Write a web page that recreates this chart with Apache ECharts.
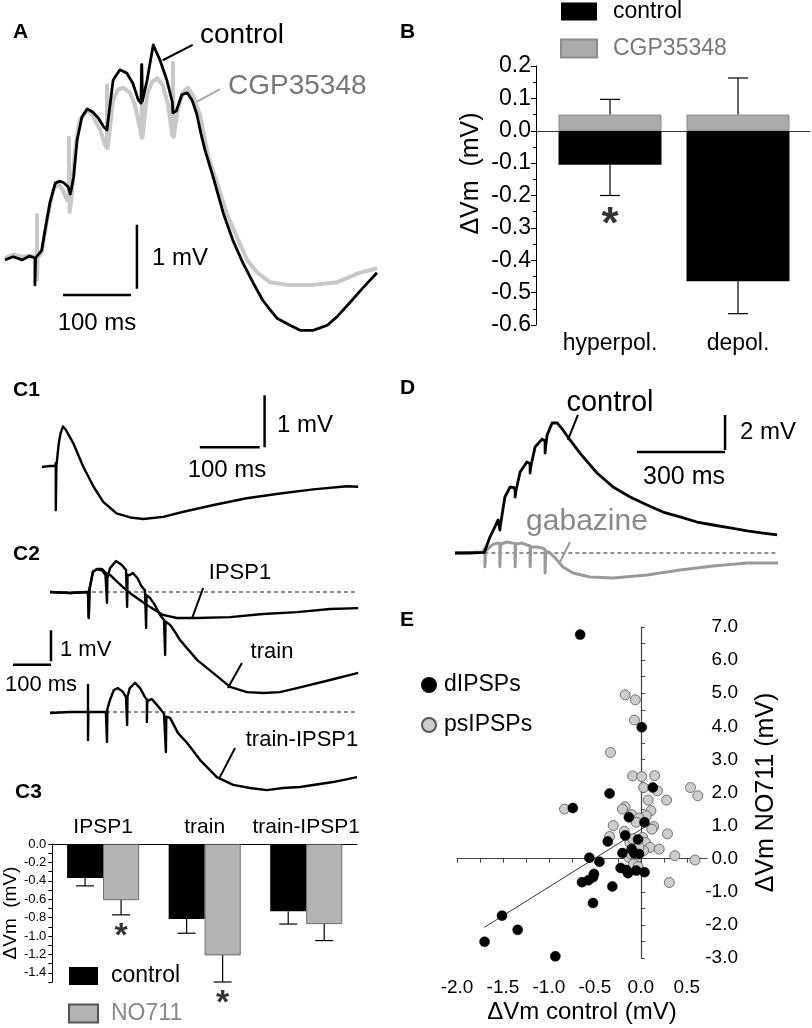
<!DOCTYPE html>
<html><head><meta charset="utf-8">
<script src="https://cdn.jsdelivr.net/npm/echarts@6/dist/echarts.min.js"></script>
<style>html,body{margin:0;padding:0;background:#fff}#c{width:812px;height:1028px}</style>
</head><body><div id="c"></div>
<script>
// ---------------- DATA ----------------
// Panel A: membrane traces (t in ms, Vm in mV)
const traceA_control = [
 [0,-0.03],[12,0.02],[25,-0.03],[36,0.03],[44,0.0],[44,-0.42],[45,0.0],
 [54,0.12],[59,0.44],[66,0.86],[74,1.17],[80,1.2],[86,1.18],[93,1.11],[96,1.0],[98,1.1],[101,1.27],
 [106,1.84],[113,2.2],[121,2.33],[129,2.28],[137,2.19],[145,2.05],[150,2.0],[151,2.1],
 [159,2.78],[169,2.94],[179,2.89],[188,2.73],[196,2.47],[200,2.42],[201,3.02],[202,2.45],
 [209,2.78],[218,3.33],[228,3.09],[238,2.78],[246,2.44],[247,2.27],[252,2.3],
 [260,2.55],[268,2.58],[275,2.47],[282,2.25],[288,1.95],[294,1.69],[306,1.27],[321,0.70],[335,0.28],
 [350,-0.08],[365,-0.39],[379,-0.66],[390,-0.81],[400,-0.94],[419,-1.05],[434,-1.13],[453,-1.13],
 [474,-1.05],[488,-0.92],[507,-0.70],[526,-0.47],[547,-0.23]
];
const traceA_cgp = [
 [0,0.0],[12,0.05],[25,0.02],[40,0.04],[47,0.0],[47,0.67],[47,-0.34],[48,0.0],
 [54,0.09],[63,0.67],[71,1.06],[78,1.17],[85,1.06],[91,0.91],[94,0.88],[94,1.88],[95,0.72],[98,0.95],
 [103,1.69],[110,2.16],[121,2.31],[129,2.23],[140,2.0],[147,1.77],[150,1.72],[150,2.70],[151,1.72],
 [159,2.47],[166,2.63],[174,2.66],[184,2.58],[191,2.39],[199,2.0],[201,1.88],[201,3.02],[202,1.88],
 [209,2.55],[216,2.75],[224,2.81],[232,2.70],[240,2.39],[246,1.92],[247,1.89],[247,3.05],[248,1.89],
 [254,2.31],[262,2.59],[269,2.66],[276,2.55],[287,2.23],[299,1.58],[312,1.17],[326,0.70],[341,0.33],
 [356,-0.03],[371,-0.23],[390,-0.38],[415,-0.42],[453,-0.42],[488,-0.38],[522,-0.23],[547,-0.16]
];

// Panel B: bars (mV)
const bCategories = ['hyperpol.', 'depol.'];
const bControlMean = [-0.105, -0.465];
const bControlSem  = [0.095, 0.10];
const bCgpMean     = [0.05, 0.05];
const bCgpSem      = [0.047, 0.113];

// Panel C1 trace
const traceC1 = [
 [0,0],[13,0.02],[22,0.02],[23,0.08],[23,-0.83],[24,0.02],[28,0.46],[31,0.65],[35,0.78],[40,0.71],
 [52,0.46],[69,0.0],[86,-0.38],[102,-0.67],[124,-0.89],[147,-0.97],[169,-1.0],[202,-0.96],[236,-0.86],
 [286,-0.73],[341,-0.6],[397,-0.51],[452,-0.43],[508,-0.37],[527,-0.38]
];
// Panel C2 traces
const traceC2_ipsp1 = [
 [0,0],[53,-0.03],[100,0],[102,0.05],[102,-0.84],[104,0.1],[113,0.65],[124,0.74],[137,0.74],[150,0.58],
 [158,0.55],[175,0.35],[192,0.16],[210,-0.03],[255,-0.42],[297,-0.74],[334,-0.84],[387,-0.84],
 [474,-0.81],[560,-0.71],[650,-0.65],[737,-0.55],[811,-0.52]
];
const traceC2_train = [
 [0,0],[53,-0.03],[100,0],[102,0.05],[102,-0.84],[104,0.1],[113,0.65],[124,0.74],[137,0.7],[146,0.55],
 [150,0.5],[150,-0.35],[151,0.45],[158,0.77],[174,1.0],[189,0.87],[200,0.71],[203,0.65],[203,-0.48],[204,0.55],
 [210,0.55],[218,0.61],[230,0.45],[240,0.2],[250,0.05],[253,0.02],[253,-1.16],[254,-0.1],[263,-0.19],
 [275,-0.4],[290,-0.75],[300,-0.9],[303,-0.92],[303,-2.03],[304,-0.95],[316,-1.06],[329,-1.29],[342,-1.55],
 [387,-2.19],[429,-2.61],[474,-3.06],[518,-3.23],[561,-3.26],[605,-3.23],[650,-3.1],[737,-2.84],[811,-2.61]
];
const traceC2_trainMinusIpsp1 = [
 [0,-0.03],[53,0],[100,0],[100,0.87],[100,-0.9],[101,0],[118,0],[147,0],[150,0],[150,-0.97],[151,0.1],
 [158,0.39],[168,0.71],[179,0.77],[192,0.65],[200,0.48],[203,0.45],[203,-0.42],[204,0.5],[210,0.77],
 [224,0.94],[237,0.77],[250,0.48],[255,0.4],[255,-0.32],[256,0.35],[261,0.39],[268,0.42],[284,0.19],
 [300,-0.06],[305,-0.1],[305,-1.29],[306,-0.15],[311,-0.13],[316,-0.19],[337,-0.68],[361,-1.0],[395,-1.55],
 [439,-2.1],[482,-2.35],[526,-2.45],[571,-2.52],[613,-2.45],[658,-2.42],[745,-2.26],[808,-2.1]
];

// Panel C3: bars (mV)
const c3Categories  = ['IPSP1', 'train', 'train-IPSP1'];
const c3ControlMean = [-0.37, -0.815, -0.73];
const c3ControlSem  = [0.085, 0.155, 0.14];
const c3NO711Mean   = [-0.61, -1.21, -0.87];
const c3NO711Sem    = [0.16, 0.29, 0.18];

// Panel D traces
const traceD_control = [
 [0,0],[50,0],[100,0.03],[102,0.06],[119,0.91],[136,1.49],[147,1.89],[153,1.85],[153,1.31],[155,1.6],
 [170,3.2],[188,3.77],[200,3.75],[205,3.6],[205,3.2],[207,3.5],[222,4.63],[245,5.2],[256,5.1],[256,4.57],
 [258,4.9],[273,6.06],[297,6.51],[307,6.4],[307,5.71],[309,6.1],[314,6.74],[331,7.43],[348,7.43],
 [368,7.03],[392,6.46],[426,5.71],[484,4.57],[539,3.77],[597,3.2],[655,2.74],[709,2.34],[767,2.06],
 [825,1.77],[880,1.6],[938,1.43],[996,1.26],[1050,1.14],[1098,1.03]
];
const traceD_gabazine = [
 [0,0],[50,0.03],[95,0.06],[102,0.29],[102,-0.78],[104,0.1],[126,0.46],[143,0.57],[153,0.55],[153,-0.78],
 [155,0.5],[177,0.63],[194,0.57],[205,0.55],[205,-0.78],[207,0.5],[228,0.57],[245,0.46],[256,0.4],[256,-0.78],
 [258,0.35],[280,0.34],[297,0.29],[307,0.2],[307,-1.14],[309,0.1],[324,0],[348,-0.4],[368,-0.8],
 [402,-1.14],[460,-1.37],[539,-1.43],[655,-1.26],[767,-0.97],[880,-0.74],[996,-0.57],[1101,-0.57]
];

// Panel E: scatter (ΔVm control, ΔVm NO711) in mV
const eDIPSPs = [
 [-0.66,6.77],[0.01,3.97],[-0.34,1.97],[0.13,2.15],[-0.74,1.53],[-0.13,1.25],[0.04,1.10],[-0.17,0.70],
 [-0.03,0.58],[-0.36,0.52],[-0.20,0.17],[-0.10,0.29],[-0.07,0.16],[-0.02,0.14],[-0.56,0.03],[-0.45,-0.09],
 [-0.22,-0.28],[-0.16,-0.34],[-0.14,-0.44],[-0.05,-0.36],[0.04,-0.41],[-0.51,-0.46],[-0.52,-0.56],
 [-0.57,-0.65],[-0.64,-0.71],[-0.31,-0.84],[-0.52,-1.34],[-1.51,-1.72],[-1.34,-2.15],[-1.70,-2.51],[-0.93,-2.95]
];
const ePsIPSPs = [
 [-0.17,4.95],[-0.06,4.80],[-0.07,4.19],[-0.33,3.21],[-0.09,2.50],[0.01,2.48],[0.15,2.51],[0.03,2.15],
 [0.18,2.05],[0.54,2.15],[0.62,1.90],[0.08,1.77],[0.28,1.77],[-0.83,1.50],[-0.17,1.57],[-0.20,1.50],
 [0.11,1.45],[-0.10,1.33],[0.06,1.30],[-0.02,1.23],[-0.05,1.10],[0.14,0.97],[0.12,0.89],[-0.30,1.00],
 [-0.34,0.67],[0.29,0.75],[-0.18,0.83],[-0.12,0.49],[0.02,0.64],[0.05,0.49],[0.10,0.34],[0.20,0.29],
 [0.03,0.24],[0.37,0.09],[0.59,-0.04],[-0.13,0.04],[-0.05,-0.01],[-0.08,-0.16],[-0.03,-0.24],[0.31,-0.72],
 [-0.09,0.60],[-0.02,0.35],[-0.11,0.15]
];
const eFitLine = [[-1.70,-2.07],[0.08,1.02]];
const eXTicks = [-2.0,-1.5,-1.0,-0.5,0.0,0.5];
const eXMinorTicks = [-2.0,-1.75,-1.5,-1.25,-1.0,-0.75,-0.5,-0.25,0,0.25,0.5];

// ---------------- LAYOUT / STYLE ----------------
const F = '"Liberation Sans", Arial, Helvetica, sans-serif';
const GREY_TRACE = '#c8c8c8';
const grids = [
 {left:5, top:18, width:374, height:320},          //0 A
 {left:536, top:66, width:274, height:259},        //1 B
 {left:42, top:389, width:318, height:156},        //2 C1
 {left:12, top:545.5, width:349.6, height:155},    //3 C2 top
 {left:12, top:665.5, width:349.6, height:139.5},  //4 C2 bottom
 {left:49, top:844, width:308, height:138},        //5 C3
 {left:455, top:395.5, width:322.7, height:192.5}, //6 D
 {left:457, top:627, width:250, height:331}        //7 E
];
const hiddenX = (g,min,max)=>({type:'value',gridIndex:g,min,max,show:false});
const hiddenY = (g,min,max)=>({type:'value',gridIndex:g,min,max,show:false});
const noSplit = {show:false};
const xAxes = [
 hiddenX(0,0,550),                                            //0 A
 {type:'value',gridIndex:1,min:0.421875,max:2.5625,position:'bottom',
  axisLine:{show:true,onZero:true,lineStyle:{color:'#333',width:1}},axisTick:{show:false},axisLabel:{show:false},splitLine:noSplit}, //1 B zero line
 {type:'value',gridIndex:1,min:0.421875,max:2.5625,position:'bottom',
  axisLine:{show:false,onZero:false},axisTick:{show:false},splitLine:noSplit,
  axisLabel:{customValues:[1,2],formatter:v=>bCategories[Math.round(v)-1],fontSize:23,color:'#000',margin:7,fontFamily:F}}, //2 B labels
 hiddenX(2,0,530),                                            //3 C1
 hiddenX(3,-100,820),                                         //4 C2 top
 hiddenX(4,-100,820),                                         //5 C2 bottom
 {type:'category',gridIndex:5,data:c3Categories,position:'top',
  axisLine:{show:true,lineStyle:{color:'#000',width:1}},axisTick:{show:false},
  axisLabel:{fontSize:21,color:'#000',margin:6,fontFamily:F,interval:0}}, //6 C3
 hiddenX(6,0,1100),                                           //7 D
 {type:'value',gridIndex:7,min:-2,max:0.72,position:'bottom',
  axisLine:{show:true,onZero:true,lineStyle:{color:'#444',width:1.2}},
  axisTick:{show:true,customValues:eXMinorTicks,length:4,lineStyle:{color:'#444'}},axisLabel:{show:false},splitLine:noSplit}, //8 E ticks
 {type:'value',gridIndex:7,min:-2,max:0.72,position:'bottom',
  axisLine:{show:false,onZero:false},axisTick:{show:false},splitLine:noSplit,
  axisLabel:{customValues:eXTicks,formatter:v=>v.toFixed(1),fontSize:19,color:'#000',margin:20,fontFamily:F},
  name:'\u0394Vm control (mV)',nameLocation:'middle',nameGap:42,nameTextStyle:{fontSize:24,color:'#000',fontFamily:F}} //9 E labels
];
const yAxes = [
 hiddenY(0,-1.25,3.75),                                       //0 A
 {type:'value',gridIndex:1,min:-0.6,max:0.2,interval:0.1,position:'left',
  axisLine:{show:true,onZero:false,lineStyle:{color:'#000',width:1}},
  axisTick:{show:true,length:5,lineStyle:{color:'#000'}},
  minorTick:{show:true,splitNumber:2,length:3,lineStyle:{color:'#000'}},
  axisLabel:{formatter:v=>v.toFixed(1),fontSize:23,color:'#000',margin:5,fontFamily:F},splitLine:noSplit,minorSplitLine:noSplit,
  name:'\u0394Vm  (mV)',nameLocation:'middle',nameGap:52,nameTextStyle:{fontSize:25,color:'#000',fontFamily:F,padding:[0,0,0,44]}}, //1 B
 hiddenY(2,-1.5,1.5),                                         //2 C1
 hiddenY(3,-3.5,1.5),                                         //3 C2 top
 hiddenY(4,-3,1.5),                                           //4 C2 bottom
 {type:'value',gridIndex:5,min:-1.5,max:0,interval:0.1,position:'left',
  axisLine:{show:true,onZero:false,lineStyle:{color:'#000',width:1}},
  axisTick:{show:true,length:4,lineStyle:{color:'#000'}},
  axisLabel:{formatter:v=>(Math.abs(Math.round(v*10))%2===0?(Math.abs(v)<1e-9?'0.0':v.toFixed(1)):''),fontSize:13,color:'#000',margin:6,fontFamily:F},
  splitLine:noSplit,
  name:'\u0394Vm  (mV)',nameLocation:'middle',nameGap:32,nameTextStyle:{fontSize:19,color:'#000',fontFamily:F}}, //5 C3
 hiddenY(6,-2,9),                                             //6 D
 {type:'value',gridIndex:7,min:-3,max:7,interval:0.5,position:'left',
  axisLine:{show:true,onZero:true,lineStyle:{color:'#444',width:1.2}},
  axisTick:{show:true,inside:true,length:4,lineStyle:{color:'#444'}},axisLabel:{show:false},splitLine:noSplit}, //7 E ticks
 {type:'value',gridIndex:7,min:-3,max:7,interval:1,position:'right',
  axisLine:{show:false,onZero:false},axisTick:{show:false},splitLine:noSplit,
  axisLabel:{formatter:v=>v.toFixed(1),fontSize:19,color:'#000',margin:31,align:'right',fontFamily:F},
  name:'\u0394Vm NO711 (mV)',nameLocation:'middle',nameGap:47,nameTextStyle:{fontSize:25,color:'#000',fontFamily:F}} //8 E labels
];
const AX = {A:[0,0], B:[2,1], C1:[3,2], C2a:[4,3], C2b:[5,4], C3:[6,5], D:[7,6], E:[9,8]};

function line(panel, data, color, width, extra){
  return Object.assign({type:'line', xAxisIndex:AX[panel][0], yAxisIndex:AX[panel][1], data,
    showSymbol:false, symbol:'none', clip:false, silent:true, z:3,
    lineStyle:{color, width, join:'round', cap:'butt'}}, extra||{});
}
// scale bar: horizontal bar of length lx starting at (x0,y0); vertical bar of length ly starting at (x1,y1)
function scaleBar(panel, x0, y0, lx, x1, y1, ly){
  return [line(panel, [[x0,y0],[x0+lx,y0]], '#000', 2.5),
          line(panel, [[x1,y1],[x1,y1+ly]], '#000', 2.5)];
}
function errRender(capW, dx){
  return function(params, api){
    const x = api.value(0), a = api.value(1), b = api.value(2);
    const p0 = api.coord([x,a]), p1 = api.coord([x,b]);
    const st = {stroke:'#000', lineWidth:1.2};
    return {type:'group', children:[
      {type:'line', shape:{x1:p0[0]+dx,y1:p0[1],x2:p1[0]+dx,y2:p1[1]}, style:st},
      {type:'line', shape:{x1:p1[0]+dx-capW/2,y1:p1[1],x2:p1[0]+dx+capW/2,y2:p1[1]}, style:st}
    ]};
  };
}
const errData = (xs, mean, sem) => mean.map((m,i)=>[xs[i], m, m + Math.sign(m)*sem[i]]);
function star(panel, pts, size, dx){
  return {type:'scatter', xAxisIndex:AX[panel][0], yAxisIndex:AX[panel][1], data:pts, symbolSize:1, clip:false, silent:true,
    itemStyle:{color:'rgba(0,0,0,0)'}, z:6,
    label:{show:true, formatter:'*', position:'inside', fontSize:size, fontWeight:'bold', color:'#000', fontFamily:F, offset:[dx, size*0.2]}};
}
const DASH = {color:'#222',width:1,type:[4,3]};

const series = [];
// A
series.push(line('A', traceA_cgp, GREY_TRACE, 4));
series.push(line('A', traceA_control, '#000', 2.8));
series.push(...scaleBar('A', 85.3, -0.58, 100, 194, -0.48, 1));
series.push(line('A', [[232,3.09],[276,3.33]], '#000', 2));
series.push(line('A', [[282,2.44],[316,2.64]], '#aaa', 2));
// B
series.push({name:'control', type:'bar', xAxisIndex:2, yAxisIndex:1, data:bControlMean.map((v,i)=>[i+1,v]),
  barWidth:103, barGap:'-100%', itemStyle:{color:'#000'}, silent:true});
series.push({name:'CGP35348', type:'bar', xAxisIndex:2, yAxisIndex:1, data:bCgpMean.map((v,i)=>[i+1,v]),
  barWidth:103, barGap:'-100%', itemStyle:{color:'#ababab', borderColor:'#8c8c8c', borderWidth:1}, silent:true});
series.push({type:'custom', xAxisIndex:2, yAxisIndex:1, renderItem:errRender(20,0), data:errData([1,2], bControlMean, bControlSem), silent:true, z:4});
series.push({type:'custom', xAxisIndex:2, yAxisIndex:1, renderItem:errRender(20,0), data:errData([1,2], bCgpMean, bCgpSem), silent:true, z:4});
series.push(star('B', [[1,-0.268]], 44, 0));
// C1
series.push(line('C1', traceC1, '#000', 2.4));
series.push(...scaleBar('C1', 263, 0.38, 100, 371, 0.38, 1));
// C2
series.push(line('C2a', [[0,0],[810,0]], '#222', 1, {lineStyle:DASH}));
series.push(line('C2a', traceC2_ipsp1, '#000', 2.4));
series.push(line('C2a', traceC2_train, '#000', 2.4));
series.push(line('C2b', [[0,0],[810,0]], '#222', 1, {lineStyle:DASH}));
series.push(line('C2b', traceC2_trainMinusIpsp1, '#000', 2.4));
series.push(...scaleBar('C2a', -97.4, -2.35, 100, 2.6, -2.23, 1));
series.push(line('C2a', [[403,0.13],[374,-0.84]], '#000', 2));
series.push(line('C2a', [[505,-2.29],[468,-3.1]], '#000', 2));
series.push(line('C2b', [[487,-1.16],[447,-2.1]], '#000', 2));
// C3
series.push({name:'C3 control', type:'bar', xAxisIndex:6, yAxisIndex:5, data:c3ControlMean,
  barWidth:36, barGap:'0%', itemStyle:{color:'#000'}, silent:true});
series.push({name:'C3 NO711', type:'bar', xAxisIndex:6, yAxisIndex:5, data:c3NO711Mean,
  barWidth:36, barGap:'0%', itemStyle:{color:'#b3b3b3', borderColor:'#555', borderWidth:0.8}, silent:true});
series.push({type:'custom', xAxisIndex:6, yAxisIndex:5, renderItem:errRender(18,-18), data:errData([0,1,2], c3ControlMean, c3ControlSem), silent:true, z:4});
series.push({type:'custom', xAxisIndex:6, yAxisIndex:5, renderItem:errRender(18,18), data:errData([0,1,2], c3NO711Mean, c3NO711Sem), silent:true, z:4});
series.push(star('C3', [[0,-0.935],[1,-1.66]], 34, 18));
// D
series.push(line('D', [[100,0],[1100,0]], '#222', 1, {lineStyle:DASH}));
series.push(line('D', traceD_gabazine, '#999', 3));
series.push(line('D', traceD_control, '#000', 2.8));
series.push(...scaleBar('D', 620.5, 5.77, 300, 920.5, 5.89, 2));
series.push(line('D', [[419,7.89],[385,6.46]], '#000', 2));
series.push(line('D', [[392,0.63],[358,-0.51]], '#999', 2));
// E
series.push(line('E', eFitLine, '#333', 1));
series.push({name:'psIPSPs', type:'scatter', xAxisIndex:9, yAxisIndex:8, data:ePsIPSPs, symbolSize:10, silent:true,
  itemStyle:{color:'#cccccc', borderColor:'#555', borderWidth:0.8, opacity:1}, z:4});
series.push({name:'dIPSPs', type:'scatter', xAxisIndex:9, yAxisIndex:8, data:eDIPSPs, symbolSize:10, silent:true,
  itemStyle:{color:'#000', borderColor:'#000', borderWidth:0.5, opacity:1}, z:5});

// text annotations
function txt(s, x, y, size, opt){
  opt = opt||{};
  const align = opt.align||'left';
  return {type:'text', x, y, silent:true, z:10, style:{text:s, x:0, y:0, fill:opt.color||'#000',
    font:(opt.bold?'bold ':'')+size+'px '+F, align, verticalAlign:'middle', textAlign:align, textVerticalAlign:'middle'}};
}
const graphic = [
 txt('A',13,32,21,{bold:true}), txt('B',400,32,21,{bold:true}),
 txt('C1',13,390,21,{bold:true}), txt('C2',13,554,21,{bold:true}), txt('C3',15,792,21,{bold:true}),
 txt('D',400,388,21,{bold:true}), txt('E',400,620,21,{bold:true}),
 txt('control',200,35,28), txt('CGP35348',228,86,28,{color:'#777'}),
 txt('1 mV',152,258,24), txt('100 ms',97,323,24,{align:'center'}),
 txt('1 mV',277,425,24), txt('100 ms',227,470,24,{align:'center'}),
 txt('IPSP1',240,573,22,{align:'center'}), txt('train',272,652,22,{align:'center'}),
 txt('train-IPSP1',302,740,22,{align:'center'}),
 txt('1 mV',60,650,22), txt('100 ms',41,685,22,{align:'center'}),
 txt('control',610,403,29,{align:'center'}), txt('2 mV',740,432,24), txt('300 ms',684,477,25,{align:'center'}),
 txt('gabazine',587,522,30,{align:'center',color:'#888'})
];

const option = {
  animation:false,
  backgroundColor:'#fff',
  textStyle:{fontFamily:F},
  grid:grids, xAxis:xAxes, yAxis:yAxes, series, graphic,
  legend:[
    {data:[{name:'control',textStyle:{color:'#000'}},{name:'CGP35348',textStyle:{color:'#777'}}],
     orient:'vertical', left:560, top:0, padding:0, itemWidth:36, itemHeight:18, itemGap:14, icon:'rect', selectedMode:false,
     textStyle:{fontSize:23, fontFamily:F, padding:[0,0,0,11]}},
    {data:[{name:'C3 control',textStyle:{color:'#000'}},{name:'C3 NO711',textStyle:{color:'#888'}}],
     formatter:n=>n.replace('C3 ',''),
     orient:'vertical', left:68, top:964.5, padding:0, itemWidth:29, itemHeight:18, itemGap:14.5, icon:'rect', selectedMode:false,
     textStyle:{fontSize:23, fontFamily:F, padding:[0,0,0,8]}},
    {data:['dIPSPs','psIPSPs'], orient:'vertical', left:421, top:673.5, padding:0, itemWidth:14, itemHeight:14, itemGap:17,
     icon:'circle', selectedMode:false, textStyle:{fontSize:23, fontFamily:F, color:'#000', padding:[0,0,0,3]}}
  ]
};
const chart = echarts.init(document.getElementById('c'), null, {renderer:'canvas'});
chart.setOption(option);
</script></body></html>
